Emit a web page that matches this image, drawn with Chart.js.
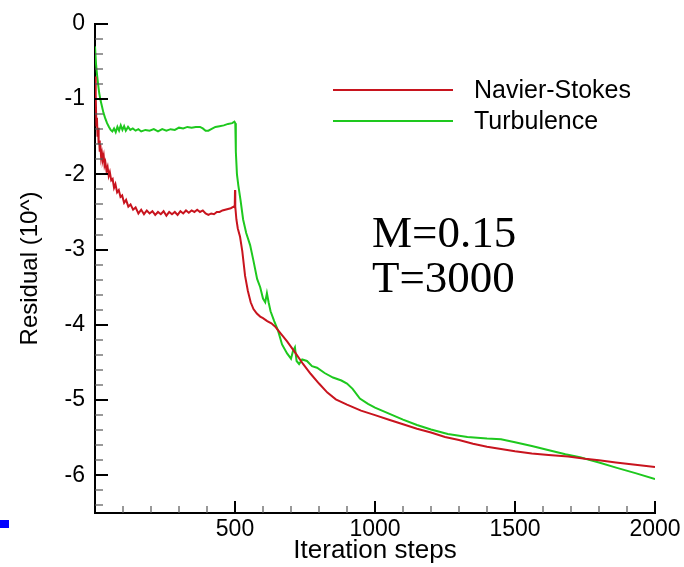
<!DOCTYPE html>
<html><head><meta charset="utf-8">
<script src="https://cdn.jsdelivr.net/npm/chart.js@4/dist/chart.umd.min.js"></script>
<style>html,body{margin:0;padding:0;background:#fff}canvas{display:block}</style>
</head><body>
<canvas id="c" width="684" height="567"></canvas>
<script>
const seriesNames = ['Navier-Stokes', 'Turbulence'];
const nsIter = [0,2,3,5,7,9,11,13,15,17,19,22,25,28,31,34,37,41,45,49,53,58,63,68,73,79,85,91,97,104,111,119,127,136,145,155,165,175,185,195,205,215,225,235,245,255,265,275,285,295,305,315,325,335,345,355,365,375,385,395,405,415,425,435,445,455,465,475,485,495,499,500,501,505,510,518,526,536,546,556,566,578,590,600,615,630,645,660,686,715,743,770,800,830,860,900,950,1000,1050,1100,1150,1200,1250,1300,1350,1400,1450,1500,1560,1620,1690,1750,1800,1860,1930,2000];
const nsRes = [-0.7,-1.05,-0.95,-1.35,-1.25,-1.5,-1.38,-1.6,-1.55,-1.7,-1.6,-1.78,-1.72,-1.8,-1.75,-1.88,-1.84,-1.95,-1.9,-2.02,-1.97,-2.08,-2.06,-2.18,-2.13,-2.24,-2.21,-2.3,-2.28,-2.38,-2.34,-2.43,-2.4,-2.47,-2.44,-2.52,-2.47,-2.53,-2.48,-2.52,-2.49,-2.54,-2.5,-2.53,-2.49,-2.55,-2.5,-2.53,-2.5,-2.54,-2.49,-2.52,-2.48,-2.51,-2.48,-2.5,-2.47,-2.5,-2.48,-2.52,-2.54,-2.52,-2.53,-2.5,-2.5,-2.48,-2.47,-2.46,-2.45,-2.43,-2.44,-2.21,-2.43,-2.6,-2.72,-2.83,-3.02,-3.35,-3.55,-3.7,-3.79,-3.85,-3.89,-3.91,-3.95,-3.98,-4.03,-4.1,-4.22,-4.37,-4.52,-4.65,-4.78,-4.9,-4.99,-5.06,-5.14,-5.2,-5.26,-5.32,-5.38,-5.43,-5.49,-5.53,-5.58,-5.62,-5.65,-5.68,-5.71,-5.73,-5.75,-5.78,-5.8,-5.83,-5.86,-5.89];
const tuIter = [0,4,8,11,15,20,25,30,36,43,50,56,62,68,74,80,86,92,98,104,110,118,126,135,145,155,165,180,195,210,225,240,255,270,285,300,315,330,345,360,375,385,395,405,415,430,445,460,475,490,498,501,503,507,512,520,529,540,554,566,579,590,600,608,614,620,627,640,654,668,686,700,707,714,720,729,740,757,775,793,820,850,880,900,920,946,975,1000,1050,1100,1150,1200,1260,1330,1400,1450,1500,1560,1625,1680,1732,1800,1864,1930,2000];
const tuRes = [-0.3,-0.55,-0.7,-0.8,-0.92,-1.02,-1.1,-1.18,-1.25,-1.32,-1.37,-1.41,-1.43,-1.39,-1.44,-1.37,-1.42,-1.35,-1.41,-1.36,-1.42,-1.37,-1.41,-1.39,-1.42,-1.4,-1.43,-1.41,-1.42,-1.4,-1.43,-1.4,-1.42,-1.4,-1.41,-1.38,-1.39,-1.37,-1.38,-1.37,-1.37,-1.39,-1.42,-1.42,-1.4,-1.37,-1.36,-1.35,-1.33,-1.32,-1.3,-1.32,-1.7,-2.0,-2.15,-2.35,-2.6,-2.78,-2.94,-3.15,-3.39,-3.5,-3.65,-3.7,-3.58,-3.7,-3.82,-3.95,-4.08,-4.26,-4.38,-4.45,-4.35,-4.3,-4.48,-4.52,-4.46,-4.48,-4.55,-4.57,-4.64,-4.7,-4.74,-4.78,-4.85,-4.98,-5.05,-5.1,-5.18,-5.26,-5.33,-5.39,-5.45,-5.49,-5.51,-5.52,-5.56,-5.61,-5.67,-5.72,-5.76,-5.83,-5.9,-5.97,-6.05];
const xTickValues = [500, 1000, 1500, 2000];
const yTickValues = [0, -1, -2, -3, -4, -5, -6];
const annotationLines = ['M=0.15', 'T=3000'];
const xTitle = 'Iteration steps';
const yTitle = 'Residual (10^)';

const RED = '#c8141e', GREEN = '#1ec81e';
const SANS = '"Liberation Sans", Arial, sans-serif';

const toPts = (xs, ys) => xs.map((x, i) => ({x: x, y: ys[i]}));

const decor = {
  id: 'decor',
  afterDatasetsDraw(chart) {
    const ctx = chart.ctx, xs = chart.scales.x, ys = chart.scales.y, a = chart.chartArea;
    ctx.save();
    for (let i = 1; i <= 20; i++) {
      const v = i * 100, px = Math.round(xs.getPixelForValue(v));
      const major = i % 5 === 0;
      ctx.strokeStyle = major ? '#000' : '#555';
      ctx.lineWidth = major ? 2 : 1.2;
      ctx.beginPath(); ctx.moveTo(px, a.bottom); ctx.lineTo(px, a.bottom - (major ? 12 : 7)); ctx.stroke();
    }
    for (let i = 0; i <= 32; i++) {
      const v = -i * 0.2, py = Math.round(ys.getPixelForValue(v));
      const major = i % 5 === 0;
      ctx.strokeStyle = major ? '#000' : '#555';
      ctx.lineWidth = major ? 2 : 1.2;
      ctx.beginPath(); ctx.moveTo(a.left, py); ctx.lineTo(a.left + (major ? 13 : 8), py); ctx.stroke();
    }
    const ds = chart.data.datasets;
    const legY = [90, 121];
    ds.forEach((d, i) => {
      ctx.strokeStyle = d.borderColor; ctx.lineWidth = 2;
      ctx.beginPath(); ctx.moveTo(333, legY[i]); ctx.lineTo(453, legY[i]); ctx.stroke();
      ctx.fillStyle = '#000'; ctx.font = '25px ' + SANS; ctx.textBaseline = 'middle'; ctx.textAlign = 'left';
      ctx.fillText(d.label, 474, legY[i] + 1);
    });
    ctx.font = '45px "Liberation Serif", "Times New Roman", serif';
    ctx.textBaseline = 'alphabetic';
    ctx.fillText(annotationLines[0], 372, 247);
    ctx.fillText(annotationLines[1], 372, 292);
    ctx.fillStyle = '#0000ff';
    ctx.fillRect(0, 520, 9, 8);
    ctx.restore();
  }
};

new Chart(document.getElementById('c'), {
  type: 'line',
  data: {
    datasets: [
      {label: seriesNames[0], data: toPts(nsIter, nsRes), borderColor: RED, borderWidth: 2, pointRadius: 0, tension: 0, fill: false},
      {label: seriesNames[1], data: toPts(tuIter, tuRes), borderColor: GREEN, borderWidth: 2, pointRadius: 0, tension: 0, fill: false}
    ]
  },
  options: {
    responsive: false,
    animation: false,
    devicePixelRatio: 1,
    layout: {padding: {top: 20, right: 29, left: 0, bottom: 0}},
    plugins: {legend: {display: false}, tooltip: {enabled: false}},
    scales: {
      x: {
        type: 'linear', min: 0, max: 2000,
        grid: {display: false, drawTicks: false},
        border: {display: true, color: '#000', width: 2},
        afterBuildTicks: s => { s.ticks = xTickValues.map(v => ({value: v})); },
        afterFit: s => { s.height = 54; },
        ticks: {color: '#000', font: {family: SANS, size: 23}, padding: 3, maxRotation: 0, autoSkip: false, callback: v => String(v)},
        title: {display: true, text: xTitle, color: '#000', font: {family: SANS, size: 26}, padding: {top: 0, bottom: 1}}
      },
      y: {
        type: 'linear', min: -6.5, max: 0,
        grid: {display: false, drawTicks: false},
        border: {display: true, color: '#000', width: 2},
        afterBuildTicks: s => { s.ticks = yTickValues.map(v => ({value: v})); },
        afterFit: s => { s.width = 95; },
        ticks: {color: '#000', font: {family: SANS, size: 23}, padding: 10, autoSkip: false, callback: v => String(v)},
        title: {display: true, text: yTitle, color: '#000', font: {family: SANS, size: 24}, padding: {top: 16, bottom: 0}}
      }
    }
  },
  plugins: [decor]
});
</script>
</body></html>
